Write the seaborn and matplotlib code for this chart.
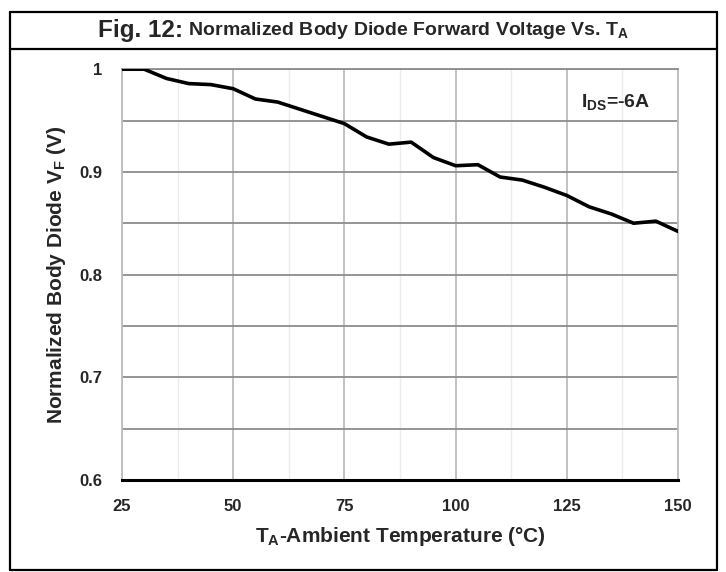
import matplotlib
matplotlib.use("Agg")
import matplotlib.pyplot as plt
import seaborn as sns
import pandas as pd
from matplotlib.ticker import MultipleLocator
from matplotlib.lines import Line2D

# data
temp = [25, 30, 35, 40, 45, 50, 55, 60, 65, 70, 75, 80, 85,
        90, 95, 100, 105, 110, 115, 120, 125, 130, 135, 140, 145, 150]
vf_norm = [1.000, 1.000, 0.991, 0.986, 0.985, 0.981, 0.971, 0.968, 0.961, 0.954,
           0.947, 0.934, 0.927, 0.929, 0.914, 0.906, 0.907, 0.895, 0.892, 0.885,
           0.877, 0.866, 0.859, 0.850, 0.852, 0.842]
x_ticks = [25, 50, 75, 100, 125, 150]
y_ticks = [0.6, 0.7, 0.8, 0.9, 1.0]
y_ticklabels = ['0.6', '0.7', '0.8', '0.9', '1']

df = pd.DataFrame({'T': temp, 'VF': vf_norm})

sns.set_style("white")
plt.rcParams['font.family'] = ['Liberation Sans', 'DejaVu Sans']
plt.rcParams['font.weight'] = 'bold'
plt.rcParams['mathtext.fontset'] = 'custom'
plt.rcParams['mathtext.rm'] = 'Liberation Sans:bold'
plt.rcParams['mathtext.it'] = 'Liberation Sans:bold'
plt.rcParams['mathtext.bf'] = 'Liberation Sans:bold'
plt.rcParams['mathtext.default'] = 'regular'

fig = plt.figure(figsize=(7.26, 5.72), dpi=100)
ax = fig.add_axes([0.168, 0.161, 0.766, 0.718])

sns.lineplot(data=df, x='T', y='VF', ax=ax, color='black', linewidth=2.6, zorder=5)

ax.set_xlim(25, 150)
ax.set_ylim(0.6, 1.0)
ax.set_xticks(x_ticks)
ax.set_yticks(y_ticks)
ax.set_yticklabels(y_ticklabels)
ax.xaxis.set_minor_locator(MultipleLocator(12.5))
ax.yaxis.set_minor_locator(MultipleLocator(0.05))
ax.tick_params(axis='both', which='both', length=0, labelsize=12)
ax.tick_params(axis='x', pad=14)
ax.tick_params(axis='y', pad=14)

ax.grid(True, axis='x', which='major', color='#bdbdbd', linewidth=1.3)
ax.grid(True, axis='x', which='minor', color='#ececec', linewidth=1.0)
ax.grid(True, axis='y', which='both', color='#8c8c8c', linewidth=1.3)

for s in ['left', 'right', 'top']:
    ax.spines[s].set_color('#bdbdbd')
    ax.spines[s].set_linewidth(1.3)
ax.spines['top'].set_color('#8c8c8c')
ax.spines['bottom'].set_color('black')
ax.spines['bottom'].set_linewidth(2.2)
ax.spines['bottom'].set_zorder(6)

ax.set_xlabel('T$_A$-Ambient Temperature (°C)', fontsize=15, fontweight='bold', labelpad=8)
ax.set_ylabel('Normalized Body Diode V$_F$ (V)', fontsize=15, fontweight='bold', labelpad=8)

ax.text(136, 0.968, 'I$_{DS}$=-6A', fontsize=14, fontweight='bold', ha='center', va='center')

# outer frame and title band
x0, x1 = 10 / 726, 717 / 726
y_top, y_bot, y_sep = 1 - 12 / 572, 1 - 570 / 572, 1 - 49 / 572
for xs, ys in [([x0, x1], [y_top, y_top]), ([x0, x1], [y_bot, y_bot]),
               ([x0, x0], [y_bot, y_top]), ([x1, x1], [y_bot, y_top]),
               ([x0, x1], [y_sep, y_sep])]:
    fig.add_artist(Line2D(xs, ys, transform=fig.transFigure, color='black', linewidth=1.6))

fig.canvas.draw()
r = fig.canvas.get_renderer()
t1 = fig.text(0, 0.946, 'Fig. 12:', fontsize=17.5, fontweight='bold', va='center', ha='left')
t2 = fig.text(0, 0.946, ' Normalized Body Diode Forward Voltage Vs. T$_A$', fontsize=14,
              fontweight='bold', va='center', ha='left')
w1 = t1.get_window_extent(r).width / fig.bbox.width
w2 = t2.get_window_extent(r).width / fig.bbox.width
start = (x0 + x1) / 2 - (w1 + w2) / 2
t1.set_x(start)
t2.set_x(start + w1)

fig.savefig('out.png', dpi=100)
